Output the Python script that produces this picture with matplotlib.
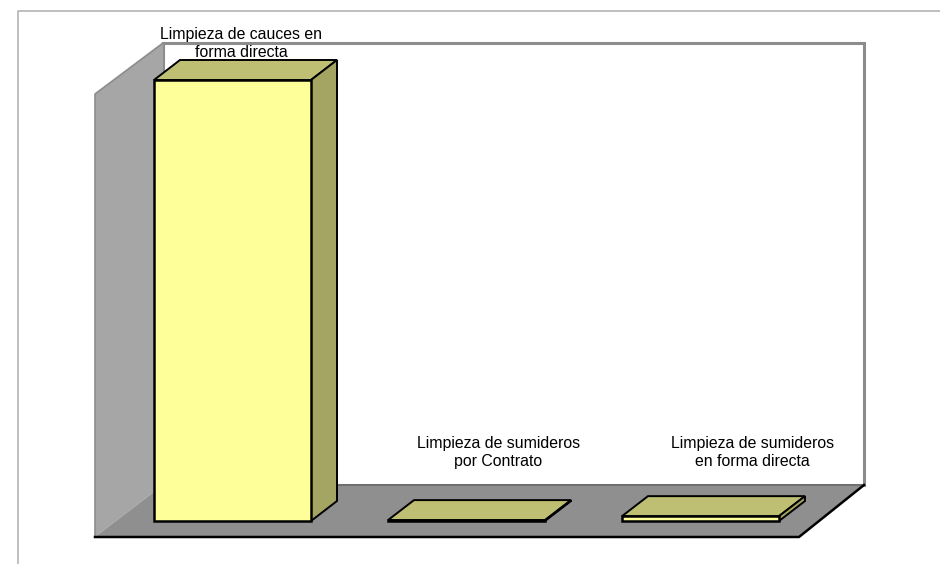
import matplotlib
matplotlib.use("Agg")
import matplotlib.pyplot as plt
from matplotlib.patches import Polygon

categories = ["Limpieza de cauces en\nforma directa",
              "Limpieza de sumideros\npor Contrato",
              "Limpieza de sumideros\nen forma directa"]
values = [100, 0.2, 1.1]

# layout of the fake 3D box, in pixels
BASE_Y = 521
PX_PER_UNIT = 4.41
BAR_W = 157
BAR_STEP = 234
BAR_X0 = 154
DX, DY = 26, 20

# hand placed labels: offset from bar centre and y of the text centre
label_dx = [8.5, 32, 52]
label_y = [43.5, 452.5, 452.5]

plt.rcParams["font.family"] = ["Liberation Sans", "DejaVu Sans"]

fig = plt.figure(figsize=(9.4, 5.64), dpi=100)
ax = fig.add_axes([0, 0, 1, 1])
ax.set_xlim(0, 940)
ax.set_ylim(564, 0)
ax.axis("off")


def poly(pts, face, edge, lw, z=1):
    ax.add_patch(Polygon(pts, closed=True, facecolor=face, edgecolor=edge,
                         linewidth=lw, joinstyle="miter", zorder=z))


# outer frame of the picture
ax.plot([18, 18, 940], [564, 11, 11], color="#b4b4b4", lw=1.2, zorder=1)

# walls and floor
poly([(163, 43), (864, 43), (864, 485), (163, 485)], "white", "#8c8c8c", 2.2)
poly([(95, 94), (163, 43), (163, 485), (95, 537)], "#a6a6a6", "none", 0, z=2)
ax.plot([163, 95, 95], [43, 94, 537], color="#8c8c8c", lw=1.2, zorder=3)
poly([(95, 537), (163, 485), (864, 485), (799, 537)], "#8f8f8f", "none", 0, z=2)
ax.plot([163, 864], [485, 485], color="#6a6a6a", lw=1.2, zorder=3)
ax.plot([95, 799, 864], [537, 537, 485], color="black", lw=1.8, zorder=3)

# bars
for i, (name, val) in enumerate(zip(categories, values)):
    x0 = BAR_X0 + i * BAR_STEP
    x1 = x0 + BAR_W
    top = BASE_Y - val * PX_PER_UNIT
    poly([(x0, top), (x0 + DX, top - DY), (x1 + DX, top - DY), (x1, top)],
         "#bfbf73", "black", 1.4, z=4)
    poly([(x1, top), (x1 + DX, top - DY), (x1 + DX, BASE_Y - DY), (x1, BASE_Y)],
         "#a5a563", "black", 1.4, z=4)
    poly([(x0, top), (x1, top), (x1, BASE_Y), (x0, BASE_Y)],
         "#ffff99", "black", 1.8, z=5)
    ax.text((x0 + x1) / 2 + label_dx[i], label_y[i], name, ha="center", va="center",
            fontsize=11.4, color="black", linespacing=1.3, zorder=6)

fig.savefig("out.png", dpi=100)
